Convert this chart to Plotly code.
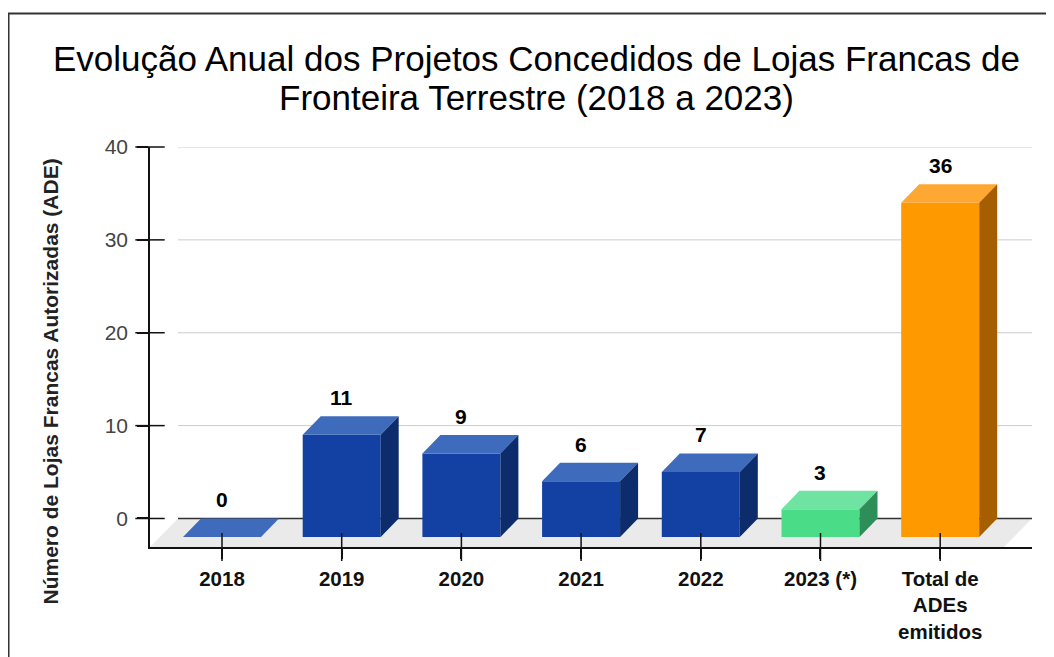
import plotly.graph_objects as go

# ---------------- data ----------------
categories = ["2018", "2019", "2020", "2021", "2022", "2023 (*)", "Total de<br>ADEs<br>emitidos"]
values = [0, 11, 9, 6, 7, 3, 36]
y_ticks = [0, 10, 20, 30, 40]
title_lines = ["Evolução Anual dos Projetos Concedidos de Lojas Francas de",
               "Fronteira Terrestre (2018 a 2023)"]
y_title = "Número de Lojas Francas Autorizadas (ADE)"

# ---------------- styles ----------------
palette = {
    "blue":   {"front": "#1240A3", "top": "#3E6BBB", "side": "#0C2C6B"},
    "green":  {"front": "#4BDC87", "top": "#6EE3A2", "side": "#2E8E59"},
    "orange": {"front": "#FF9900", "top": "#FFA733", "side": "#A65F00"},
}
bar_styles = ["blue", "blue", "blue", "blue", "blue", "green", "orange"]
FONT = "Arial, Liberation Sans, sans-serif"

OFF = 8                       # page body margin
W, H = 1054 - OFF, 657 - OFF
# plot area in page pixels: x 150..1032, y 147..547
ML = 150 - OFF
MT = 147 - OFF
MR = W - (1032 - OFF)
MB = H - (547 - OFF)
PW, PH = W - ML - MR, H - MT - MB


def paper_x(px):
    return (px - OFF - ML) / PW


def paper_y(py):
    return (H - MB - (py - OFF)) / PH


X_MIN, X_MAX = -0.6015, 6.767
Y_MIN, Y_MAX = -3.07, 40
PX_X = PW / (X_MAX - X_MIN)
PX_Y = PH / (Y_MAX - Y_MIN)
DX = 18 / PX_X          # 3D depth (x units)
DY = 18.5 / PX_Y        # 3D depth (y units)
HALF = 39 / PX_X        # half bar width
FLOOR_X = 28 / PX_X

fig = go.Figure()

# floor
fig.add_shape(type="path",
              path=f"M {X_MIN},{Y_MIN} L {X_MIN + FLOOR_X},0 L {X_MAX},0 L {X_MAX - FLOOR_X},{Y_MIN} Z",
              xref="x", yref="y", fillcolor="#EAEAEA", line=dict(width=0), layer="below")
# gridlines (back wall)
for t in y_ticks:
    fig.add_shape(type="line", x0=X_MIN + FLOOR_X, x1=X_MAX, y0=t, y1=t, xref="x", yref="y",
                  line=dict(color="#333333" if t == 0 else "#CCCCCC", width=1.5 if t == 0 else 1),
                  layer="below")

# 3D bars
for i, (v, s) in enumerate(zip(values, bar_styles)):
    c = palette[s]
    xl, xr = i - HALF, i + HALF
    faces = [
        ([xl, xr, xr, xl, xl], [-DY, -DY, v - DY, v - DY, -DY], c["front"]),
        ([xl, xl + DX, xr + DX, xr, xl], [v - DY, v, v, v - DY, v - DY], c["top"]),
        ([xr, xr + DX, xr + DX, xr, xr], [-DY, 0, v, v - DY, -DY], c["side"]),
    ]
    for fx, fy, col in faces:
        fig.add_trace(go.Scatter(x=fx, y=fy, fill="toself", fillcolor=col, mode="lines",
                                 line=dict(width=0, color=col), hoverinfo="skip", showlegend=False))

# tick marks crossing the axes
fig.add_trace(go.Scatter(x=[X_MIN] * len(y_ticks), y=y_ticks, mode="markers",
                         marker=dict(symbol="line-ew", size=21, line=dict(width=1.5, color="#111")),
                         cliponaxis=False, hoverinfo="skip", showlegend=False))
fig.add_trace(go.Scatter(x=list(range(len(categories))), y=[Y_MIN] * len(categories), mode="markers",
                         marker=dict(symbol="line-ns", size=20, line=dict(width=1.5, color="#111")),
                         cliponaxis=False, hoverinfo="skip", showlegend=False))

# value labels
for i, v in enumerate(values):
    fig.add_annotation(x=i, y=v, text=f"<b>{v}</b>", showarrow=False, yanchor="bottom", yshift=5,
                       font=dict(family=FONT, size=21, color="#000"))

# title lines
for line, yb in zip(title_lines, [71, 110]):
    fig.add_annotation(xref="paper", yref="paper", x=paper_x(536), y=paper_y(yb - 12.1),
                       text=line, showarrow=False, xanchor="center", yanchor="middle",
                       font=dict(family=FONT, size=35, color="#000"))

# y axis title
fig.add_annotation(xref="paper", yref="paper", x=paper_x(50), y=paper_y(381.5),
                   text=f"<b>{y_title}</b>", textangle=-90, showarrow=False,
                   xanchor="center", yanchor="middle", font=dict(family=FONT, size=21, color="#222"))

# outer frame
fig.add_shape(type="rect", xref="paper", yref="paper",
              x0=paper_x(8.5), x1=paper_x(1090), y0=paper_y(700), y1=paper_y(13.5),
              line=dict(color="#333333", width=2), fillcolor="rgba(0,0,0,0)", layer="above")

fig.update_layout(
    width=W, height=H, margin=dict(l=ML, r=MR, t=MT, b=MB, autoexpand=False),
    paper_bgcolor="white", plot_bgcolor="white", showlegend=False,
    font=dict(family=FONT),
    xaxis=dict(range=[X_MIN, X_MAX], tickmode="array", tickvals=list(range(len(categories))),
               ticktext=[f"<b>{c}</b>" for c in categories], showgrid=False, zeroline=False,
               showline=True, linecolor="#111", linewidth=2, ticks="outside", ticklen=10,
               tickwidth=1.5, tickcolor="#111", ticklabelstandoff=2,
               tickfont=dict(family=FONT, size=20.5, color="#111"), fixedrange=True),
    yaxis=dict(range=[Y_MIN, Y_MAX], tickmode="array", tickvals=y_ticks, showgrid=False,
               zeroline=False, showline=True, linecolor="#111", linewidth=1.5, ticks="outside",
               ticklen=11, tickwidth=1.5, tickcolor="#111", ticklabelstandoff=5,
               tickfont=dict(family=FONT, size=21, color="#444"), fixedrange=True),
)

fig.write_html("out.html")
